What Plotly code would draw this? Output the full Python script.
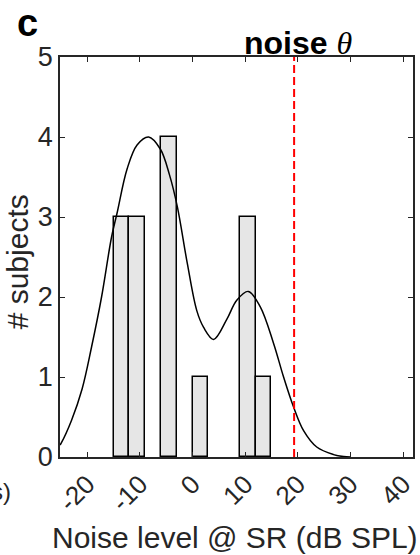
import plotly.graph_objects as go

# ---- data ----
bin_edges_left = [-15, -12, -9, -6, -3, 0, 3, 6, 9, 12]
bin_width = 3
bin_counts = [3, 3, 0, 4, 0, 1, 0, 0, 3, 1]

kde_x = [-25.2, -25.0, -23.0, -21.0, -19.2, -17.3, -15.4, -14.35, -12.45, -10.55,
         -8.35, -6.13, -4.4, -2.9, -1.0, 0.8, 2.1, 4.0, 6.5, 8.4,
         10.6, 12.85, 15.4, 17.3, 19.2, 21.1, 23.6, 26.8, 28.7, 30.0]
kde_y = [0.15, 0.17, 0.46, 0.85, 1.375, 2.0, 2.75, 3.05, 3.6, 3.9,
         4.0, 3.85, 3.53, 3.13, 2.42, 1.83, 1.62, 1.47, 1.72, 1.96,
         2.07, 1.88, 1.42, 1.0, 0.625, 0.33, 0.125, 0.03, 0.005, 0.0]

noise_theta = 19.3

x_tickvals = [-20, -10, 0, 10, 20, 30, 40]
x_ticktext = ["-20", "-10", "0", "10", "20", "30", "40"]
y_tickvals = [0, 1, 2, 3, 4, 5]

AX = "#262626"
FONT = "Liberation Sans, Arial, sans-serif"

# only non-empty bins are drawn
bar_x = [e + bin_width / 2 for e, c in zip(bin_edges_left, bin_counts) if c > 0]
bar_y = [c for c in bin_counts if c > 0]

fig = go.Figure()
fig.add_trace(go.Bar(
    x=bar_x, y=bar_y, width=bin_width,
    marker=dict(color="#e6e6e6", line=dict(color="black", width=1.5)),
    showlegend=False,
))
fig.add_trace(go.Scatter(
    x=kde_x, y=kde_y, mode="lines",
    line=dict(color="black", width=1.5, shape="spline", smoothing=1.0),
    showlegend=False,
))
fig.add_trace(go.Scatter(
    x=[noise_theta, noise_theta], y=[0, 5], mode="lines",
    line=dict(color="#ff0000", width=2, dash="8px,4px"),
    showlegend=False,
))

fig.update_layout(
    width=420, height=555,
    margin=dict(l=60, r=6.7, t=56.7, b=98.3, autoexpand=False),
    paper_bgcolor="white", plot_bgcolor="white",
    font=dict(family=FONT, color=AX),
    bargap=0,
    xaxis=dict(
        range=[-25.2, 41.9], tickvals=x_tickvals, ticktext=x_ticktext,
        tickangle=-45, ticks="inside", ticklen=5, tickwidth=1.2, tickcolor=AX,
        showline=True, linecolor=AX, linewidth=1.5, mirror="ticks",
        showgrid=False, zeroline=False, automargin=False,
        tickfont=dict(size=26, color=AX, family=FONT),
    ),
    yaxis=dict(
        range=[0, 5], tickvals=y_tickvals,
        ticks="inside", ticklen=5, tickwidth=1.2, tickcolor=AX,
        showline=True, linecolor=AX, linewidth=1.5, mirror="ticks",
        showgrid=False, zeroline=False, automargin=False,
        tickfont=dict(size=27, color=AX, family=FONT),
    ),
    annotations=[
        dict(text="<b>c</b>", xref="paper", yref="paper",
             x=(15 - 60) / 353.3, y=(456.7 - 23) / 400,
             xanchor="left", yanchor="middle", showarrow=False,
             font=dict(size=38, color="black", family=FONT)),
        dict(text="<b>noise</b> <span style='font-family:Liberation Serif, DejaVu Serif, serif'><i>θ</i></span>",
             xref="x", yref="paper", x=noise_theta + 0.7, y=1,
             xanchor="center", yanchor="bottom", yshift=-6, showarrow=False,
             font=dict(size=32, color="black", family=FONT)),
        dict(text="# subjects", xref="paper", yref="paper",
             x=(17.5 - 60) / 353.3, y=(456.7 - 261.5) / 400, textangle=-90,
             xanchor="center", yanchor="middle", showarrow=False,
             font=dict(size=30, color=AX, family=FONT)),
        dict(text="Noise level @ SR (dB SPL)", xref="paper", yref="paper",
             x=(235 - 60) / 353.3, y=(456.7 - 537) / 400,
             xanchor="center", yanchor="middle", showarrow=False,
             font=dict(size=30, color=AX, family=FONT)),
        dict(text="(ms)", xref="paper", yref="paper",
             x=(13 - 60) / 353.3, y=(456.7 - 491.7) / 400,
             xanchor="right", yanchor="middle", showarrow=False,
             font=dict(size=24, color=AX, family=FONT)),
    ],
)

fig.write_html(
    "out.html",
    config={"displayModeBar": False},
    post_script="document.body.style.margin='0';document.body.style.overflow='hidden';",
)
